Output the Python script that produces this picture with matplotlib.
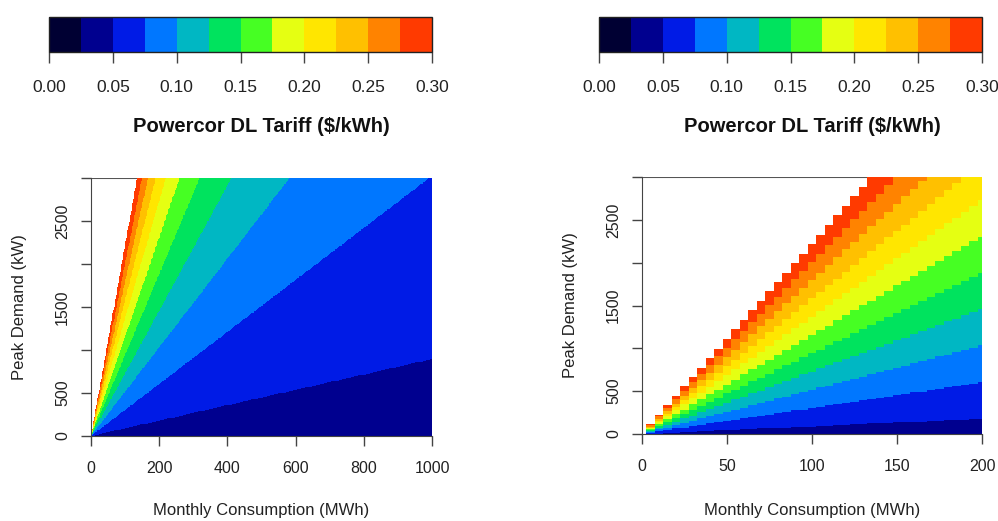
import numpy as np
import matplotlib
matplotlib.use("Agg")
import matplotlib.pyplot as plt
from matplotlib.colors import ListedColormap, BoundaryNorm
import matplotlib as mpl

plt.rcParams['font.family'] = ['Liberation Sans', 'DejaVu Sans']

# tariff: energy part + demand part spread over consumption
energy_rate = 0.0395      # $/kWh
demand_rate = 11.74       # $/kW/month

tariff_levels = [0.0, 0.025, 0.05, 0.075, 0.10, 0.125, 0.15,
                 0.175, 0.20, 0.225, 0.25, 0.275, 0.30]
tariff_ticks = [0.0, 0.05, 0.10, 0.15, 0.20, 0.25, 0.30]
tariff_colours = ['#000033', '#00008f', '#001be6', '#0077ff', '#00b7c3', '#00e35e',
                  '#46ff23', '#e5ff12', '#ffe600', '#ffc000', '#ff8300', '#ff3a00']

# grids (MWh, kW)
consumption_left = np.arange(0, 1001, 2)
consumption_right = np.arange(0, 201, 5)
peak_demand = np.arange(0, 3001, 10)

x_ticks_left = [0, 200, 400, 600, 800, 1000]
x_ticks_right = [0, 50, 100, 150, 200]
y_ticks = [0, 500, 1000, 1500, 2000, 2500, 3000]
y_ticklabels = ['0', '500', '', '1500', '', '2500', '']

cmap = ListedColormap(tariff_colours)
norm = BoundaryNorm(tariff_levels, cmap.N)

W, H = 998, 521
fig = plt.figure(figsize=(W / 100, H / 100), dpi=100)


def px_axes(x0, y0, x1, y1):
    # pixel box (top-left origin) -> figure axes
    return fig.add_axes([x0 / W, 1 - y1 / H, (x1 - x0) / W, (y1 - y0) / H])


def tariff_grid(consumption):
    C, P = np.meshgrid(consumption, peak_demand)
    with np.errstate(divide='ignore', invalid='ignore'):
        T = energy_rate + demand_rate * P / (C * 1000.0)
    T[~np.isfinite(T)] = np.nan
    T[T > tariff_levels[-1]] = np.nan
    return np.ma.masked_invalid(T)


def draw_panel(box, cbox, consumption, xticks, xlim):
    ax = px_axes(*box)
    T = tariff_grid(consumption)
    ax.axhline(3000, color='#555555', lw=1.5, zorder=0.5)
    ax.pcolormesh(consumption, peak_demand, T, cmap=cmap, norm=norm,
                  shading='nearest', zorder=1, rasterized=True)
    ax.set_xlim(*xlim)
    ax.set_ylim(0, 3000)
    for s in ['top', 'right']:
        ax.spines[s].set_visible(False)
    for s in ['left', 'bottom']:
        ax.spines[s].set_color('#444444')
    ax.set_xticks(xticks)
    ax.set_yticks(y_ticks)
    ax.set_yticklabels(y_ticklabels, rotation=90, va='center')
    ax.tick_params(direction='out', length=7.2, width=1, color='#444444',
                   labelsize=11.5, labelcolor='#222222')
    ax.tick_params(axis='x', pad=11)
    ax.tick_params(axis='y', pad=8)

    cx = (box[0] + box[2]) / 2
    fig.text(cx / W, 1 - 511 / H, 'Monthly Consumption (MWh)', ha='center',
             va='center', fontsize=12, color='#222222')
    fig.text((box[0] - 71) / W, 1 - ((box[1] + box[3]) / 2) / H, 'Peak Demand (kW)',
             ha='center', va='center', rotation=90, fontsize=12, color='#222222')

    cax = px_axes(*cbox)
    cb = mpl.colorbar.ColorbarBase(cax, cmap=cmap, norm=norm, orientation='horizontal',
                                   ticks=tariff_ticks, spacing='proportional')
    cb.ax.set_xticklabels([f'{t:.2f}' for t in tariff_ticks])
    cb.ax.minorticks_off()
    cb.outline.set_edgecolor('#222222')
    cb.outline.set_linewidth(1)
    cax.tick_params(direction='out', length=8, width=1, color='#444444',
                    labelsize=12.5, labelcolor='#222222', pad=12)
    fig.text(cx / W, 1 - 127 / H, 'Powercor DL Tariff ($/kWh)', ha='center',
             va='center', fontsize=14.5, fontweight='bold', color='#111111')
    return ax


draw_panel((91, 178, 432, 436), (49, 17, 432, 52), consumption_left, x_ticks_left, (0, 1000))
draw_panel((642, 177, 982, 434), (599, 17, 982, 52), consumption_right, x_ticks_right, (0, 200))

fig.savefig('out.png', dpi=100)
